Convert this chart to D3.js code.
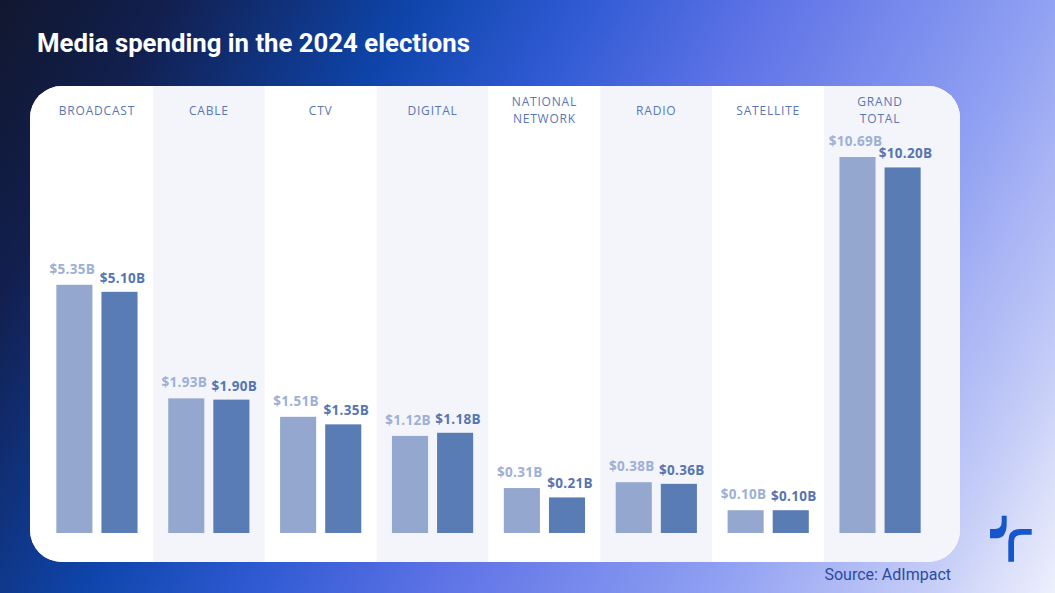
<!DOCTYPE html>
<html>
<head>
<meta charset="utf-8">
<script src="https://cdn.jsdelivr.net/npm/d3@7"></script>
<style>
  html, body { margin: 0; padding: 0; background: #ffffff; }
  svg { display: block; }
</style>
</head>
<body>
<svg id="chart" width="1055" height="593"></svg>
<script>
// ---- data ----
const categories = ["BROADCAST", "CABLE", "CTV", "DIGITAL", "NATIONAL NETWORK", "RADIO", "SATELLITE", "GRAND TOTAL"];
const categoryLines = [["BROADCAST"], ["CABLE"], ["CTV"], ["DIGITAL"], ["NATIONAL", "NETWORK"], ["RADIO"], ["SATELLITE"], ["GRAND", "TOTAL"]];
const seriesLight = [5.35, 1.93, 1.51, 1.12, 0.31, 0.38, 0.10, 10.69];
const seriesDark  = [5.10, 1.90, 1.35, 1.18, 0.21, 0.36, 0.10, 10.20];
const seriesNames = ["light", "dark"];
const titleText = "Media spending in the 2024 elections";
const sourceText = "Source: AdImpact";

// ---- layout ----
const W = 1055, H = 593;
const panel = { x: 30, y: 86, w: 930, h: 476, r: 32 };
const baseY = 533, topY = 157;
const colors = { light: "#94a8cf", dark: "#5a7cb5", lightText: "#9db0d6", darkText: "#5675b2", header: "#5877b4", gray: "#f3f5fa" };

const svg = d3.select("#chart");
const defs = svg.append("defs");

// background gradient
const bg = defs.append("linearGradient").attr("id", "bg")
  .attr("gradientUnits", "userSpaceOnUse")
  .attr("x1", 0).attr("y1", 0).attr("x2", W).attr("y2", H);
[[0, "#11172e"], [0.12, "#121f4e"], [0.3, "#0e45ab"], [0.42, "#2f5ad2"], [0.55, "#5d72e6"], [0.75, "#8f9ff2"], [0.9, "#c3cbf7"], [1, "#eef0fc"]]
  .forEach(([o, c]) => bg.append("stop").attr("offset", o).attr("stop-color", c));
svg.append("rect").attr("width", W).attr("height", H).attr("fill", "url(#bg)");

// title
svg.append("text")
  .attr("x", 37).attr("y", 52)
  .attr("fill", "#ffffff")
  .attr("font-family", "Roboto, 'DejaVu Sans', sans-serif")
  .attr("font-weight", 700)
  .attr("font-size", 26)
  .attr("textLength", 433)
  .attr("lengthAdjust", "spacingAndGlyphs")
  .text(titleText);

// panel
defs.append("clipPath").attr("id", "panelClip")
  .append("rect").attr("x", panel.x).attr("y", panel.y).attr("width", panel.w).attr("height", panel.h).attr("rx", panel.r);
svg.append("rect").attr("x", panel.x).attr("y", panel.y).attr("width", panel.w).attr("height", panel.h).attr("rx", panel.r).attr("fill", "#ffffff");

const x0 = d3.scaleBand().domain(categories).range([41, 936]).paddingInner(0).paddingOuter(0);
const x1 = d3.scaleBand().domain(seriesNames).range([0, x0.bandwidth()]).paddingInner(0.2).paddingOuter(0.34);
const y = d3.scalePow().exponent(0.6).domain([0, d3.max(seriesLight.concat(seriesDark))]).range([baseY, topY]);

const last = categories.length - 1;
const g = svg.append("g").attr("clip-path", "url(#panelClip)");
g.selectAll("rect.col").data(categories).join("rect")
  .attr("class", "col")
  .attr("x", (d, i) => i === 0 ? panel.x : x0(d))
  .attr("y", panel.y)
  .attr("width", (d, i) => i === 0 ? x0(d) + x0.bandwidth() - panel.x
                        : i === last ? panel.x + panel.w - x0(d) : x0.bandwidth())
  .attr("height", panel.h)
  .attr("fill", (d, i) => i % 2 === 1 ? colors.gray : "#ffffff");

// headers
const hdr = svg.append("g");
categories.forEach((c, i) => {
  const lines = categoryLines[i];
  const cx = x0(c) + x0.bandwidth() / 2;
  const ys = lines.length === 1 ? [115] : [106, 122.5];
  lines.forEach((l, k) => {
    hdr.append("text")
      .attr("x", cx).attr("y", ys[k]).attr("text-anchor", "middle")
      .attr("fill", colors.header)
      .attr("font-family", "'Open Sans', sans-serif")
      .attr("font-size", 12)
      .attr("letter-spacing", 0.8)
      .text(l);
  });
});

// bars
const rows = categories.map((c, i) => ({ c, light: seriesLight[i], dark: seriesDark[i] }));
const fmt = v => "$" + v.toFixed(2) + "B";
const groups = svg.append("g").selectAll("g").data(rows).join("g")
  .attr("transform", d => `translate(${x0(d.c)},0)`);
seriesNames.forEach(s => {
  groups.append("rect")
    .attr("x", x1(s)).attr("width", x1.bandwidth())
    .attr("y", d => y(d[s])).attr("height", d => baseY - y(d[s]))
    .attr("fill", colors[s]);
  groups.append("text")
    .attr("x", x1(s) + x1.bandwidth() / 2 + (s === "dark" ? 3 : -2))
    .attr("y", d => y(d[s]) - (s === "dark" ? 9 : 11))
    .attr("text-anchor", "middle")
    .attr("fill", s === "dark" ? colors.darkText : colors.lightText)
    .attr("font-family", "'Open Sans', sans-serif")
    .attr("font-weight", 700)
    .attr("font-size", 13.5)
    .attr("letter-spacing", 0.3)
    .text(d => fmt(d[s]));
});

// source
svg.append("text")
  .attr("x", 951).attr("y", 580).attr("text-anchor", "end")
  .attr("fill", "#2d4a9e")
  .attr("font-family", "Roboto, sans-serif")
  .attr("font-size", 16)
  .text(sourceText);

// logo
const logo = svg.append("g").attr("fill", "#1656cc");
logo.append("path").attr("d",
  "M1001.7,515.7 L1006.7,515.7 L1006.7,523.3 Q1006.7,538.3 996.7,538.3 L990,538.3 L990,529 L995,529 Q1001.7,529 1001.7,521.7 Z");
logo.append("path").attr("d",
  "M1031.7,529 L1020,529 Q1008.3,529 1008.3,541.7 L1008.3,561.7 L1014,561.7 L1014,541.7 Q1014,534.7 1021.7,534.7 L1031.7,534.7 Z");
</script>
</body>
</html>
